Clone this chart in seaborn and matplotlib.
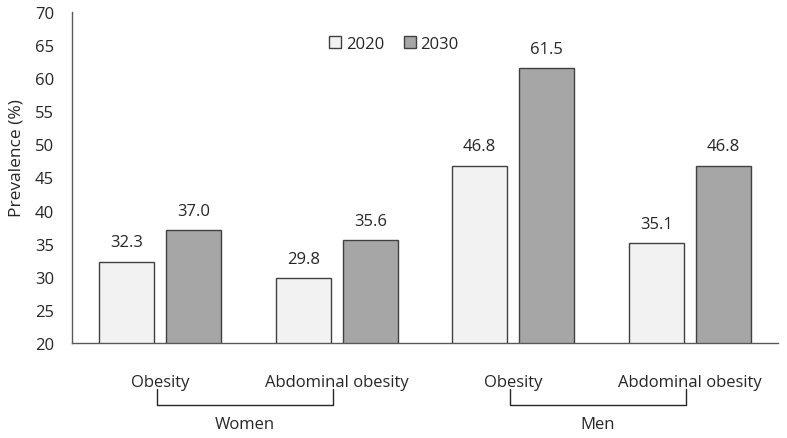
import matplotlib
matplotlib.use("Agg")
import matplotlib.pyplot as plt
import matplotlib.transforms as mtransforms
import seaborn as sns
import pandas as pd

categories = ["Women Obesity", "Women Abdominal obesity", "Men Obesity", "Men Abdominal obesity"]
tick_labels = ["Obesity", "Abdominal obesity", "Obesity", "Abdominal obesity"]
years = ["2020", "2030"]
values_2020 = [32.3, 29.8, 46.8, 35.1]
values_2030 = [37.0, 35.6, 61.5, 46.8]
groups = ["Women", "Men"]

df = pd.DataFrame({
    "category": categories * 2,
    "year": [years[0]] * 4 + [years[1]] * 4,
    "value": values_2020 + values_2030,
})

sns.set_theme(style="white")
plt.rcParams["font.family"] = ["Open Sans", "DejaVu Sans"]

fig, ax = plt.subplots(figsize=(7.87, 4.39), dpi=100)
fig.subplots_adjust(left=0.0915, right=0.9886, top=0.9704, bottom=0.2164)

palette = {"2020": "#F2F2F2", "2030": "#A6A6A6"}
sns.barplot(data=df, x="category", y="value", hue="year", order=categories,
            hue_order=years, palette=palette, width=0.76, gap=0.18,
            edgecolor="#404040", linewidth=1.0, saturation=1, ax=ax, legend=True)

for cont in ax.containers:
    ax.bar_label(cont, fmt="%.1f", padding=8, fontsize=12, color="#262626")

ax.set_ylim(20, 70)
ax.set_xlim(-0.5, 3.5)
ax.set_yticks(range(20, 71, 5))
ax.tick_params(axis="y", labelsize=12, length=0, pad=13, colors="#262626")
ax.tick_params(axis="x", labelsize=12, length=0, pad=22, colors="#262626")
ax.set_xticks(range(4))
ax.set_xticklabels(tick_labels)
ax.set_xlabel("")
ax.set_ylabel("Prevalence (%)", fontsize=12.5, color="#262626")
ax.yaxis.set_label_coords(-0.0666, 0.562)

for s in ["top", "right"]:
    ax.spines[s].set_visible(False)
for s in ["left", "bottom"]:
    ax.spines[s].set_color("#595959")
    ax.spines[s].set_linewidth(1.0)

trans = mtransforms.blended_transform_factory(ax.transData, ax.transAxes)
for gi, gname in enumerate(groups):
    x0 = gi * 2 - 0.02
    x1 = gi * 2 + 1 - 0.02
    ax.plot([x0, x0, x1, x1], [-0.139, -0.187, -0.187, -0.139], color="#262626",
            lw=1.0, transform=trans, clip_on=False)
    ax.text((x0 + x1) / 2, -0.245, gname, transform=trans, ha="center", va="center",
            fontsize=12, color="#262626")

leg = ax.legend(loc="center", bbox_to_anchor=(0.456, 0.903), ncol=2, frameon=False,
                fontsize=12, handlelength=0.7, handleheight=0.7, handletextpad=0.3,
                columnspacing=1.2)
for t in leg.get_texts():
    t.set_color("#262626")

fig.savefig("out.png", dpi=100)
